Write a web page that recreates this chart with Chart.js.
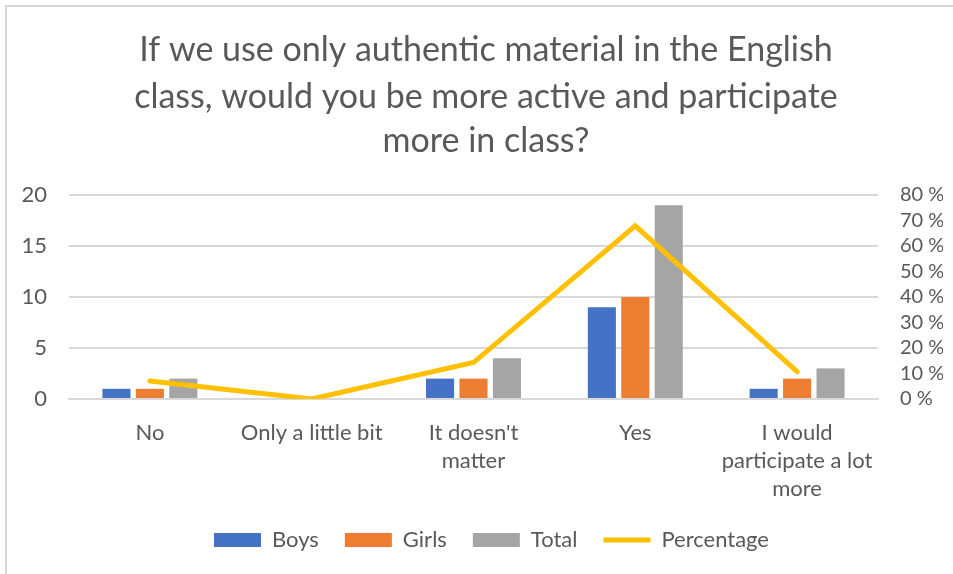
<!DOCTYPE html>
<html>
<head>
<meta charset="utf-8">
<script src="https://cdn.jsdelivr.net/npm/chart.js@4/dist/chart.umd.min.js"></script>
<style>
  html, body { margin: 0; padding: 0; background: #fff; }
  #wrap { position: absolute; left: 0; top: 0; width: 953px; height: 574px; }
</style>
</head>
<body>
<div id="wrap"><canvas id="chart" width="953" height="574"></canvas></div>
<script>
// Survey answers
const categories = [
    'No',
    'Only a little bit',
    ["It doesn't", 'matter'],
    'Yes',
    ['I would', 'participate a lot', 'more']
];
const boys = [1, 0, 2, 9, 1];
const girls = [1, 0, 2, 10, 2];
const total = [2, 0, 4, 19, 3];
const percentage = [0.071, 0, 0.143, 0.679, 0.107];

const titleLines = [
    'If we use only authentic material in the English',
    'class, would you be more active and participate',
    'more in class?'
];

const FONT = 'Lato, "Open Sans", sans-serif';
const TEXT = '#595959';

// Frame on the top/left edge and the three-line heading
const framePlugin = {
    id: 'frame',
    afterLayout(chart) {
        // legend sits a little right of the canvas centre
        chart.legend.left += 20;
        chart.legend.right += 20;
    },
    beforeDraw(chart) {
        const ctx = chart.ctx;
        ctx.save();
        ctx.fillStyle = '#fff';
        ctx.fillRect(0, 0, chart.width, chart.height);
        ctx.strokeStyle = '#d9d9d9';
        ctx.lineWidth = 2;
        ctx.beginPath();
        ctx.moveTo(6, chart.height);
        ctx.lineTo(6, 6);
        ctx.lineTo(chart.width, 6);
        ctx.stroke();

        ctx.fillStyle = TEXT;
        ctx.font = '34px ' + FONT;
        ctx.textAlign = 'center';
        ctx.textBaseline = 'middle';
        const cx = 486;
        const rows = [50, 97, 141];
        titleLines.forEach((line, i) => ctx.fillText(line, cx, rows[i]));
        ctx.restore();
    }
};

const ctx = document.getElementById('chart').getContext('2d');
new Chart(ctx, {
    data: {
        labels: categories,
        datasets: [
            { type: 'bar', label: 'Boys', data: boys, backgroundColor: '#4472C4', pointStyle: 'rect', order: 1, yAxisID: 'y' },
            { type: 'bar', label: 'Girls', data: girls, backgroundColor: '#ED7D31', pointStyle: 'rect', order: 1, yAxisID: 'y' },
            { type: 'bar', label: 'Total', data: total, backgroundColor: '#A5A5A5', pointStyle: 'rect', order: 1, yAxisID: 'y' },
            {
                type: 'line', label: 'Percentage', data: percentage,
                borderColor: '#FFC000', backgroundColor: '#FFC000',
                borderWidth: 5, borderCapStyle: 'round', borderJoinStyle: 'miter',
                pointRadius: 0, tension: 0, pointStyle: 'line', order: 0, yAxisID: 'y1'
            }
        ]
    },
    options: {
        responsive: false,
        animation: false,
        datasets: {
            bar: { categoryPercentage: 0.62, barPercentage: 0.84 }
        },
        layout: { padding: { left: 0, right: 10, top: 195, bottom: 13 } },
        plugins: {
            title: { display: false },
            legend: {
                position: 'bottom',
                labels: {
                    usePointStyle: true,
                    pointStyleWidth: 47,
                    boxHeight: 14,
                    padding: 26,
                    color: TEXT,
                    font: { family: FONT, size: 22 },
                    sort: (a, b) => a.datasetIndex - b.datasetIndex
                }
            },
            tooltip: { enabled: false }
        },
        scales: {
            x: {
                grid: { display: false },
                border: { color: '#d9d9d9', width: 2 },
                ticks: {
                    color: TEXT,
                    font: { family: FONT, size: 22, lineHeight: 1.27 },
                    padding: 12,
                    maxRotation: 0,
                    autoSkip: false
                },
                afterFit(scale) { scale.height = 104; }
            },
            y: {
                position: 'left',
                min: 0, max: 20,
                ticks: { stepSize: 5, color: TEXT, font: { family: FONT, size: 22 }, padding: 22 },
                grid: { color: '#d9d9d9', lineWidth: 2, drawTicks: false },
                border: { display: false },
                afterFit(scale) { scale.width = 69; }
            },
            y1: {
                position: 'right',
                min: 0, max: 0.8,
                ticks: {
                    stepSize: 0.1, color: TEXT, font: { family: FONT, size: 20 }, padding: 22,
                    autoSkip: false,
                    callback: v => Math.round(v * 100) + ' %'
                },
                grid: { display: false, drawTicks: false },
                border: { display: false },
                afterFit(scale) { scale.width = 65; }
            }
        }
    },
    plugins: [framePlugin]
});
</script>
</body>
</html>
